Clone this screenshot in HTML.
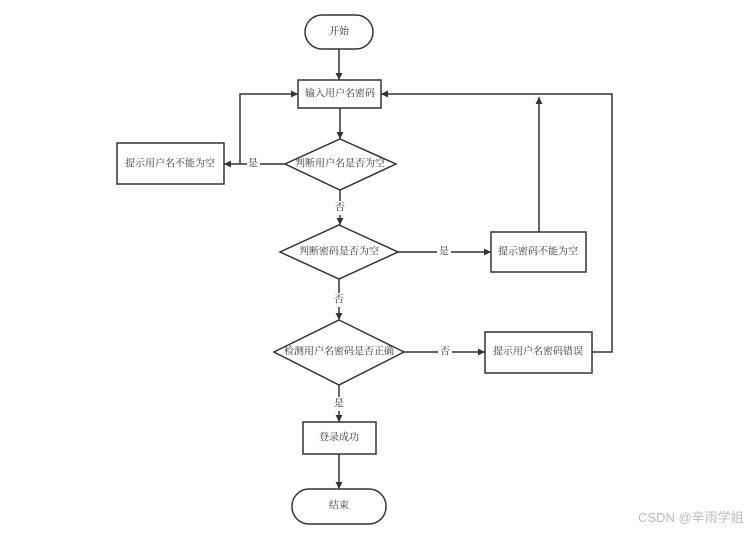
<!DOCTYPE html>
<html><head><meta charset="utf-8"><style>
html,body{margin:0;padding:0;background:#fff;}
svg text{font-family:"Liberation Serif","Noto Serif CJK SC",serif;font-size:10px;fill:#333;}
</style></head><body>
<svg width="756" height="531" viewBox="0 0 756 531" xmlns="http://www.w3.org/2000/svg">
<defs><marker id="a" viewBox="0 0 10 10" refX="10" refY="5" markerWidth="7" markerHeight="7" orient="auto" markerUnits="userSpaceOnUse"><path d="M0,0L10,5L0,10z" fill="#333"/></marker></defs>
<g stroke="#333" stroke-width="1.5" fill="#fff">
<rect x="305" y="15" width="68" height="34" rx="17"/>
<rect x="298" y="80" width="83" height="28"/>
<polygon points="340,139 396,164 340,190 285,164"/>
<rect x="117" y="143" width="107" height="41"/>
<polygon points="339,225 398,252 339,279 280,252"/>
<rect x="491" y="232" width="95" height="40"/>
<polygon points="339,320 404,352 339,385 274,352"/>
<rect x="485" y="332" width="107" height="41"/>
<rect x="303" y="422" width="73" height="32"/>
<rect x="292" y="489" width="94" height="35" rx="17"/>
</g>
<g stroke="#333" stroke-width="1.5" fill="none">
<line x1="339" y1="49" x2="339" y2="80" marker-end="url(#a)"/>
<line x1="340" y1="108" x2="340" y2="139" marker-end="url(#a)"/>
<line x1="285" y1="164" x2="224" y2="164" marker-end="url(#a)"/>
<polyline points="240,164 240,94 298,94" marker-end="url(#a)"/>
<line x1="340" y1="190" x2="340" y2="225" marker-end="url(#a)"/>
<line x1="398" y1="252" x2="491" y2="252" marker-end="url(#a)"/>
<line x1="539" y1="232" x2="539" y2="97" marker-end="url(#a)"/>
<line x1="339" y1="279" x2="339" y2="320" marker-end="url(#a)"/>
<line x1="404" y1="352" x2="485" y2="352" marker-end="url(#a)"/>
<polyline points="592,352 612,352 612,94 381,94" marker-end="url(#a)"/>
<line x1="339" y1="385" x2="339" y2="422" marker-end="url(#a)"/>
<line x1="339" y1="454" x2="339" y2="489" marker-end="url(#a)"/>
</g>
<g fill="#fff">
<rect x="247" y="157" width="13" height="14"/>
<rect x="333" y="201" width="14" height="14"/>
<rect x="437" y="245" width="14" height="14"/>
<rect x="332" y="293" width="14" height="14"/>
<rect x="438" y="345" width="14" height="14"/>
<rect x="332" y="397" width="14" height="14"/>
</g>
<g text-anchor="middle" dominant-baseline="central">
<text x="339" y="32">开始</text>
<text x="340" y="94">输入用户名密码</text>
<text x="340" y="164">判断用户名是否为空</text>
<text x="170" y="164">提示用户名不能为空</text>
<text x="253" y="164">是</text>
<text x="340" y="208">否</text>
<text x="339" y="252">判断密码是否为空</text>
<text x="444" y="252">是</text>
<text x="538" y="252">提示密码不能为空</text>
<text x="339" y="300">否</text>
<text x="339" y="352">检测用户名密码是否正确</text>
<text x="445" y="352">否</text>
<text x="538" y="352">提示用户名密码错误</text>
<text x="339" y="404">是</text>
<text x="339" y="438">登录成功</text>
<text x="339" y="506">结束</text>
</g>
<text x="638" y="522" style="font-family:'Liberation Sans','Noto Sans CJK SC',sans-serif;font-size:13px;fill:#bbb">CSDN @辛雨学姐</text>
</svg>
</body></html>
